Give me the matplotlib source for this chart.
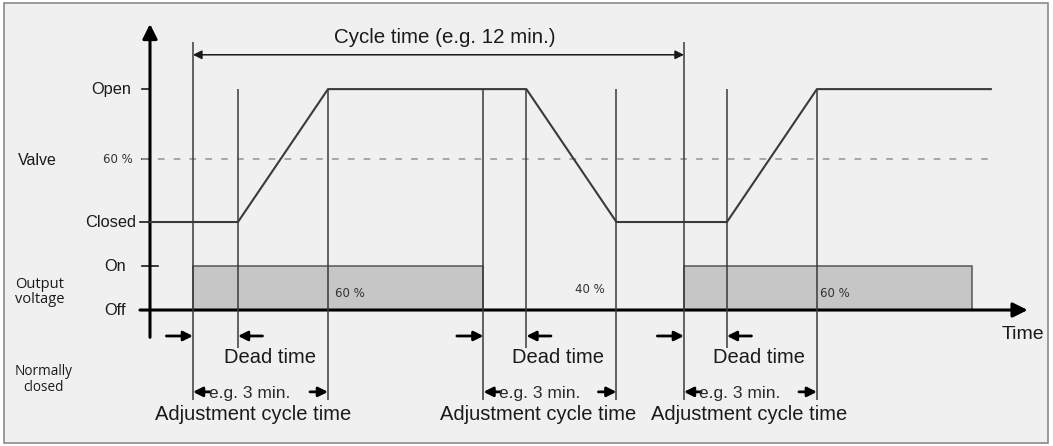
import matplotlib.pyplot as plt
from matplotlib.patches import Rectangle

plt.rcParams['font.family'] = ['Liberation Sans', 'DejaVu Sans']

# time axis in minutes, measured from the vertical axis
cycle_starts = [1.05, 13.05]          # output switched on (start of each cycle)
cycle_label = 'Cycle time (e.g. 12 min.)'
pulse_on = [1.05, 13.05]
pulse_off = [8.15, 20.1]
pulse_labels = ['60 %', '60 %']
pulse_label_t = [4.89, 16.74]
gap_label = '40 %'
gap_label_t = 10.75

# valve movements: start of the move (dead time ends) and end of the move
switch_times = [1.05, 8.15, 13.05]     # output voltage changes
dead_ends = [2.15, 9.2, 14.1]          # valve starts moving
adjust_ends = [4.35, 11.4, 16.3]       # valve reaches end position
adjust_label_t = [2.52, 9.48, 14.64]

valve_t = [0, 2.15, 4.35, 9.2, 11.4, 14.1, 16.3, 20.55]
valve_state = ['Closed', 'Closed', 'Open', 'Open', 'Closed', 'Closed', 'Open', 'Open']

# vertical levels on the diagram
levels = {'Off': 0.0, 'On': 1.0, 'Closed': 2.0, '60 %': 3.43, 'Open': 5.02}
tick_names = ['Open', '60 %', 'Closed', 'On', 'Off']

fig = plt.figure(figsize=(10.53, 4.46), dpi=100)
fig.patch.set_facecolor('white')
ax = fig.add_axes([0, 0, 1, 1])
ax.set_xlim(-3.666, 22.07)
ax.set_ylim(-3.09, 7.045)
ax.axis('off')
ax.add_patch(Rectangle((4 / 1053, 3 / 446), 1044 / 1053, 440 / 446,
                       transform=ax.transAxes, facecolor='#f0f0f0',
                       edgecolor='#8a8a8a', lw=1.2, zorder=0))

ink = '#1a1a1a'
thin = '#3a3a3a'

# axes with arrows
ax.annotate('', xy=(0, 6.5), xytext=(0, -0.62),
            arrowprops=dict(arrowstyle='-|>', lw=2.2, color='black',
                            mutation_scale=22, shrinkA=0, shrinkB=0))
ax.annotate('', xy=(21.45, 0), xytext=(-0.245, 0),
            arrowprops=dict(arrowstyle='-|>', lw=2.2, color='black',
                            mutation_scale=22, shrinkA=0, shrinkB=0))
ax.text(21.33, -0.55, 'Time', fontsize=14, color=ink, ha='center', va='center')

# ticks and tick labels
tick_left = {'Open': -0.2, '60 %': -0.2, 'Closed': -0.25, 'On': -0.2, 'Off': -0.25}
tick_right = {'Open': 0, '60 %': 0, 'Closed': 0, 'On': 0.2, 'Off': 0}
label_x = {'Open': -0.46, '60 %': -0.41, 'Closed': -0.34, 'On': -0.58, 'Off': -0.58}
for name in tick_names:
    y = levels[name]
    if name != 'Off':
        ax.plot([tick_left[name], tick_right[name]], [y, y], color=ink, lw=1.2)
    if name == '60 %':
        ax.text(label_x[name], y, name, fontsize=8.5, family='DejaVu Sans',
                color='#333', ha='right', va='center')
    else:
        ax.text(label_x[name], y, name, fontsize=11.8, color=ink,
                ha='right', va='center')

# 60 % dashed reference
ax.plot([-0.2, 20.5], [levels['60 %']] * 2, color='#9a9a9a', lw=1.2,
        dashes=(4, 5.5))

# group labels on the left
ax.text(-3.23, levels['60 %'] - 0.04, 'Valve', fontsize=11.5, color=ink,
        ha='left', va='center')
ax.text(-3.3, 0.42, 'Output\nvoltage', fontsize=10.5, color=ink, family='Open Sans',
        ha='left', va='center', linespacing=1.0)
ax.text(-3.3, -1.57, 'Normally\nclosed', fontsize=9.8, color=ink, family='Open Sans',
        ha='left', va='center', linespacing=1.1, multialignment='center')

# output voltage pulses
for t0, t1, lab, lt in zip(pulse_on, pulse_off, pulse_labels, pulse_label_t):
    ax.add_patch(Rectangle((t0, levels['Off']), t1 - t0, levels['On'] - levels['Off'],
                           facecolor='#c6c6c6', edgecolor='#555555', lw=1.1, zorder=2))
    ax.text(lt, 0.37, lab, fontsize=8.5, family='DejaVu Sans', color='#333',
            ha='center', va='center', zorder=5)
ax.text(gap_label_t, 0.46, gap_label, fontsize=8.5, family='DejaVu Sans',
        color='#333', ha='center', va='center')

# valve position trace
ax.plot(valve_t, [levels[s] for s in valve_state], color=thin, lw=1.5, zorder=4)

# vertical guide lines
low = -2.05
ax.vlines(cycle_starts, low, 6.09, color=thin, lw=1.1, zorder=3)
for t in switch_times:
    if t not in cycle_starts:
        ax.vlines(t, low, levels['Open'], color=thin, lw=1.1, zorder=3)
ax.vlines(dead_ends, -0.86, levels['Open'], color=thin, lw=1.1, zorder=3)
ax.vlines(adjust_ends, low, levels['Open'], color=thin, lw=1.1, zorder=3)

# cycle time arrow
ax.annotate('', xy=(cycle_starts[1], 5.8), xytext=(cycle_starts[0], 5.8),
            arrowprops=dict(arrowstyle='<|-|>', lw=1.1, color=ink,
                            mutation_scale=13, shrinkA=0, shrinkB=0))
ax.text((cycle_starts[0] + cycle_starts[1]) / 2 + 0.15, 6.2, cycle_label,
        fontsize=14.8, color=ink, ha='center', va='center')

small = dict(arrowstyle='-|>', lw=2.0, color='black', mutation_scale=14,
             shrinkA=0, shrinkB=0)
for ts, td, ta, tl in zip(switch_times, dead_ends, adjust_ends, adjust_label_t):
    # dead time markers
    ax.annotate('', xy=(ts, -0.59), xytext=(ts - 0.65, -0.59), arrowprops=small)
    ax.annotate('', xy=(td, -0.59), xytext=(td + 0.6, -0.59), arrowprops=small)
    ax.text(td + 0.78, -1.07, 'Dead time', fontsize=14.5, color=ink,
            ha='center', va='center')
    # adjustment cycle time markers
    ax.annotate('', xy=(ts, -1.86), xytext=(ts + 0.42, -1.86), arrowprops=small)
    ax.annotate('', xy=(ta, -1.86), xytext=(ta - 0.44, -1.86), arrowprops=small)
    ax.text(ts + 0.38, -1.9, 'e.g. 3 min.', fontsize=12.5, color='#2a2a2a',
            ha='left', va='center')
    ax.text(tl, -2.38, 'Adjustment cycle time', fontsize=14.5,
            color=ink, ha='center', va='center')

fig.savefig('out.png', dpi=100)
